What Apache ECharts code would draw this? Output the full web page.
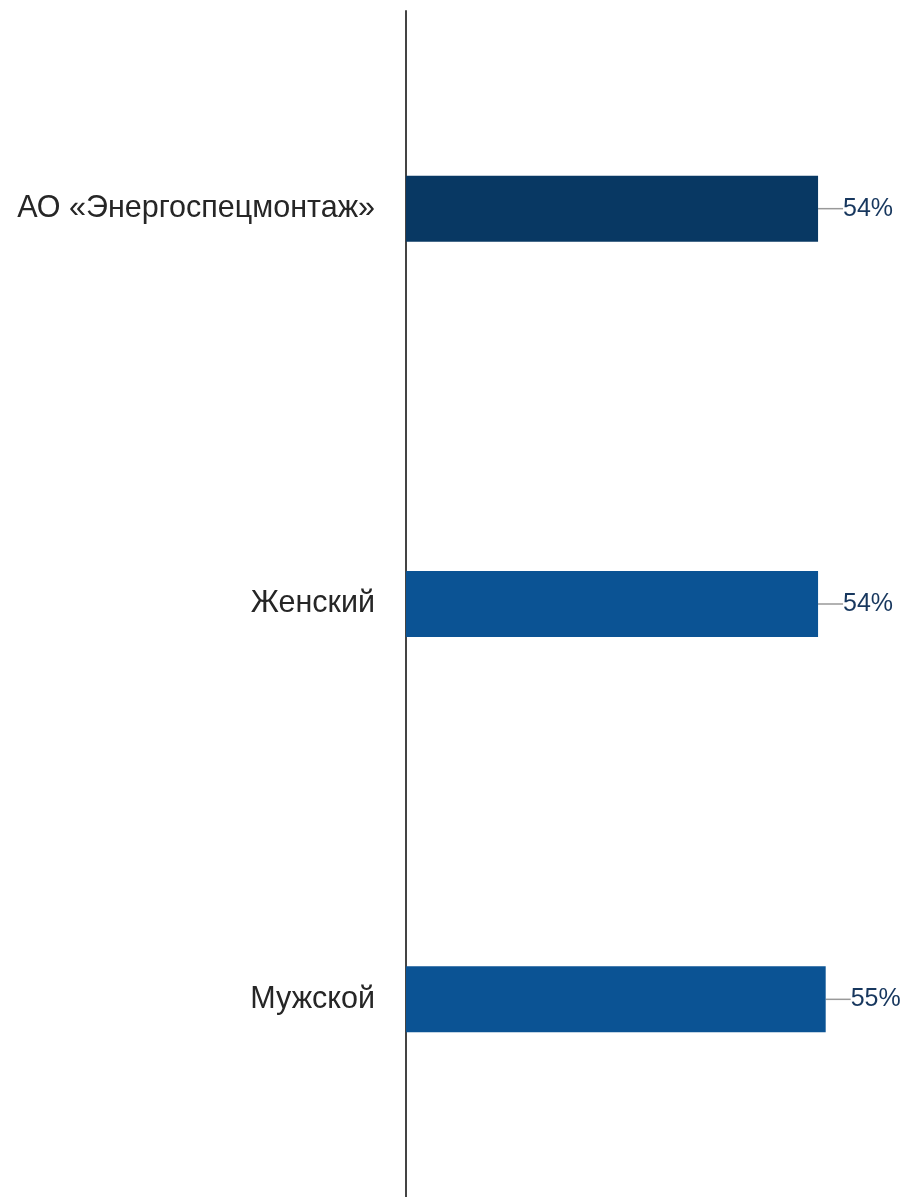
<!DOCTYPE html>
<html>
<head>
<meta charset="utf-8">
<script src="https://cdn.jsdelivr.net/npm/echarts@6/dist/echarts.min.js"></script>
<style>
html,body{margin:0;padding:0;background:#fff;}
#chart{width:905px;height:1197px;}
</style>
</head>
<body>
<div id="chart"></div>
<script>
var categories = ['АО «Энергоспецмонтаж»', 'Женский', 'Мужской'];
var values = [54, 54, 55];
var barColors = ['#083863', '#0b5394', '#0b5394'];

var chart = echarts.init(document.getElementById('chart'));
chart.setOption({
  animation: false,
  grid: {left: 406, width: 496, top: 11, height: 1188, containLabel: false},
  xAxis: {type: 'value', min: 0, max: 65, show: false},
  yAxis: {
    type: 'category',
    data: categories,
    inverse: true,
    axisLine: {show: true, lineStyle: {color: '#444', width: 2}},
    axisTick: {show: false},
    axisLabel: {
      fontFamily: 'Liberation Sans, Arial, sans-serif',
      fontSize: 30.5,
      color: '#262626',
      margin: 31
    }
  },
  series: [{
    type: 'bar',
    barWidth: 66,
    data: values.map(function (v, i) { return {value: v, itemStyle: {color: barColors[i]}}; }),
    label: {
      show: true,
      position: 'right',
      distance: 0,
      formatter: '{c}%',
      fontFamily: 'Liberation Sans, Arial, sans-serif',
      fontSize: 25,
      color: '#17375e'
    },
    labelLayout: {dx: 25},
    labelLine: {show: true, lineStyle: {color: '#999', width: 1.5}}
  }]
});
</script>
</body>
</html>
